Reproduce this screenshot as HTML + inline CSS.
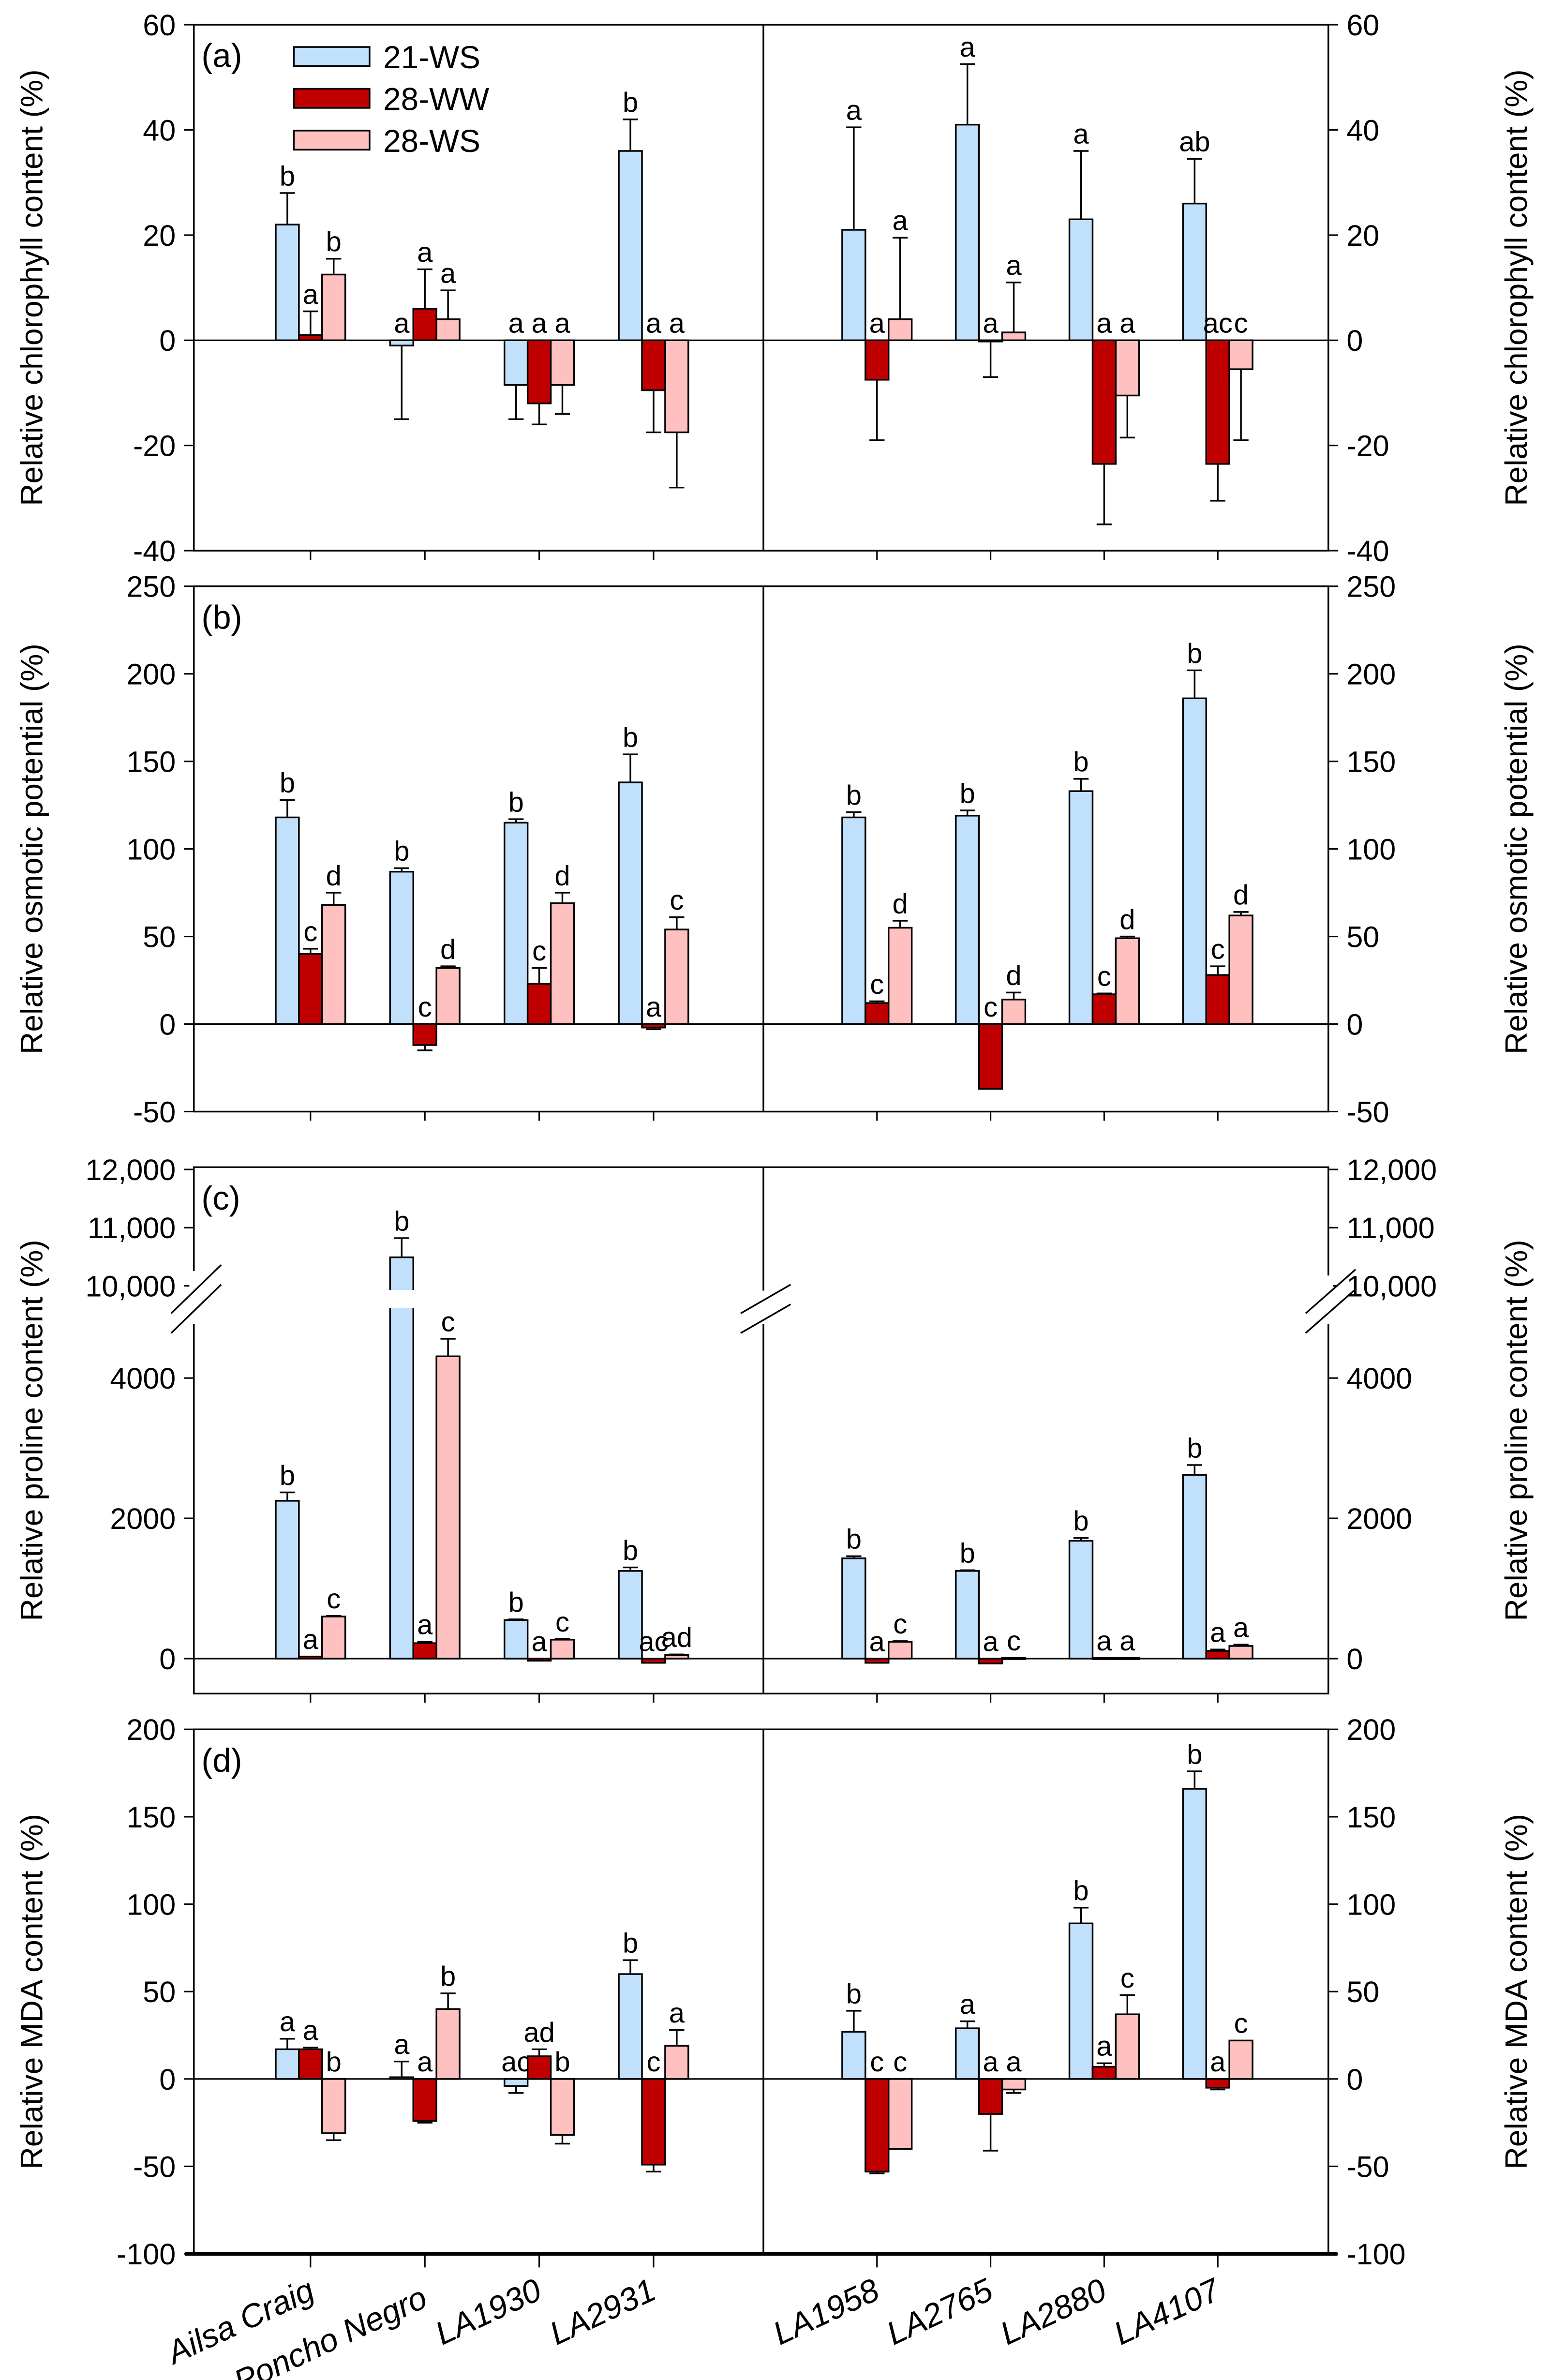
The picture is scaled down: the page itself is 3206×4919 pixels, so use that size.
<!DOCTYPE html>
<html><head><meta charset="utf-8">
<style>
html,body{margin:0;padding:0;background:#fff;}
svg{display:block;}
text{font-family:"Liberation Sans",Arial,sans-serif;fill:#000;}
</style></head>
<body>
<svg id="chart" width="3206" height="4919" viewBox="0 0 1024 1571.1" xmlns="http://www.w3.org/2000/svg"></svg>
<script>
const cultivars = ["Ailsa Craig","Poncho Negro","LA1930","LA2931","LA1958","LA2765","LA2880","LA4107"];
const seriesNames = ["21-WS","28-WW","28-WS"];
// panel a: chlorophyll
const chlA_ws21 = [22,-1,-8.5,36,21,41,23,26];
const chlA_ww28 = [1,6,-12,-9.5,-7.5,0,-23.5,-23.5];
const chlA_ws28 = [12.5,4,-8.5,-17.5,4,1.5,-10.5,-5.5];
const chlE_ws21 = [6,-14,-6.5,6,19.5,11.5,13,8.5];
const chlE_ww28 = [4.5,7.5,-4,-8,-11.5,-7,-11.5,-7];
const chlE_ws28 = [3,5.5,-5.5,-10.5,15.5,9.5,-8,-13.5];
const chlL_ws21 = ["b","a","a","b","a","a","a","ab"];
const chlL_ww28 = ["a","a","a","a","a","a","a","ac"];
const chlL_ws28 = ["b","a","a","a","a","a","a","c"];
// panel b: osmotic potential
const osmA_ws21 = [118,87,115,138,118,119,133,186];
const osmA_ww28 = [40,-12,23,-2,12,-37,17,28];
const osmA_ws28 = [68,32,69,54,55,14,49,62];
const osmE_ws21 = [10,2,2,16,3,3,7,16];
const osmE_ww28 = [3,-3,9,-1,1,0,0.5,5];
const osmE_ws28 = [7,1,6,7,4,4,1,2];
const osmL_ws21 = ["b","b","b","b","b","b","b","b"];
const osmL_ww28 = ["c","c","c","a","c","c","c","c"];
const osmL_ws28 = ["d","d","d","c","d","d","d","d"];
// panel c: proline
const proA_ws21 = [2250,10490,550,1250,1430,1250,1680,2620];
const proA_ww28 = [30,220,-30,-60,-60,-70,10,110];
const proA_ws28 = [600,4310,270,50,240,10,10,180];
const proE_ws21 = [120,330,10,50,30,10,40,140];
const proE_ww28 = [0,20,0,0,0,0,0,20];
const proE_ws28 = [10,250,10,10,10,0,0,20];
const proL_ws21 = ["b","b","b","b","b","b","b","b"];
const proL_ww28 = ["a","a","a","ac","a","a","a","a"];
const proL_ws28 = ["c","c","c","ad","c","c","a","a"];
// panel d: MDA
const mdaA_ws21 = [17,1,-4,60,27,29,89,166];
const mdaA_ww28 = [17,-24,13,-49,-53,-20,7,-5];
const mdaA_ws28 = [-31,40,-32,19,-40,-6,37,22];
const mdaE_ws21 = [6,9,-4,8,12,4,9,10];
const mdaE_ww28 = [1,-1,4,-4,-1,-21,2,-1];
const mdaE_ws28 = [-4,9,-5,9,0,-2,11,0];
const mdaL_ws21 = ["a","a","ac","b","b","a","b","b"];
const mdaL_ww28 = ["a","a","ad","c","c","a","a","a"];
const mdaL_ws28 = ["b","b","b","a","c","a","c","c"];

const yTicksA = [60,40,20,0,-20,-40];
const yTicksB = [250,200,150,100,50,0,-50];
const yTicksC = [0,2000,4000,10000,11000,12000];
const yTickLabelsC = ["0","2000","4000","10,000","11,000","12,000"];
const yTicksD = [200,150,100,50,0,-50,-100];

const svg = document.getElementById('chart');
const NS = 'http://www.w3.org/2000/svg';
function mk(tag, attrs, parent){
  const e = document.createElementNS(NS, tag);
  for (const k in attrs) e.setAttribute(k, attrs[k]);
  (parent||svg).appendChild(e);
  return e;
}
const L = 128, MID = 504, R = 877;
const centers = [205,280.5,356,431.5,579,654,729,804];
const BW = 15.3;
const colors = ["#c0e0fc","#c00000","#ffc0c0"];

function linScale(vTop, vBot, yTop, yBot){
  return v => yTop + (vTop - v) * (yBot - yTop) / (vTop - vBot);
}
function procScale(v){
  if (v > 7000) return 772 + (12000 - v) * 0.0384;
  return 1094.9 - v * 0.0463;
}

const panels = [
  {key:'chlorophyll', tag:'(a)', top:16.3, bot:363.5, y:linScale(60,-40,16.3,363.5), ticks:yTicksA, tickLabels:yTicksA.map(String),
   title:'Relative chlorophyll content (%)', A:[chlA_ws21,chlA_ww28,chlA_ws28], E:[chlE_ws21,chlE_ww28,chlE_ws28], Lt:[chlL_ws21,chlL_ww28,chlL_ws28]},
  {key:'osmotic', tag:'(b)', top:387, bot:733.8, y:linScale(250,-50,387,733.8), ticks:yTicksB, tickLabels:yTicksB.map(String),
   title:'Relative osmotic potential (%)', A:[osmA_ws21,osmA_ww28,osmA_ws28], E:[osmE_ws21,osmE_ww28,osmE_ws28], Lt:[osmL_ws21,osmL_ww28,osmL_ws28]},
  {key:'proline', tag:'(c)', top:770.5, bot:1118, y:procScale, ticks:yTicksC, tickLabels:yTickLabelsC,
   title:'Relative proline content (%)', A:[proA_ws21,proA_ww28,proA_ws28], E:[proE_ws21,proE_ww28,proE_ws28], Lt:[proL_ws21,proL_ww28,proL_ws28]},
  {key:'mda', tag:'(d)', top:1141.6, bot:1487.8, y:linScale(200,-100,1141.6,1487.8), ticks:yTicksD, tickLabels:yTicksD.map(String),
   title:'Relative MDA content (%)', A:[mdaA_ws21,mdaA_ww28,mdaA_ws28], E:[mdaE_ws21,mdaE_ww28,mdaE_ws28], Lt:[mdaL_ws21,mdaL_ww28,mdaL_ws28]}
];

panels.forEach((p, pi) => {
  const g = mk('g', {});
  
  
  const y0 = p.y(0);
  const zl = mk('line', {x1:L, x2:R, y1:y0, y2:y0, stroke:'#000', 'stroke-width':1}, g);
  
  
  for (let i = 0; i < centers.length; i++) {
    for (let s = 0; s < 3; s++) {
      const v = p.A[s][i];
      const x = centers[i] - BW*1.5 + s*BW;
      const yv = p.y(v);
      const yTop = Math.min(yv, y0), h = Math.max(Math.abs(yv - y0), 0.8);
      const r = mk('rect', {x:x, y:yTop, width:BW, height:h, fill:colors[s], stroke:'#000', 'stroke-width':1.1}, g);
      
      
      if (p.key === 'proline' && v > 7000) {
        const gap = mk('rect', {x:x-1.5, y:851.5, width:BW+3, height:12, fill:'#fff'}, g);
        
        
      }
      const e = p.E[s][i];
      const cx = x + BW/2;
      let errEnd = v;
      if (e !== 0) {
        errEnd = v + e;
        const ye = p.y(errEnd);
        const el = mk('path', {d:`M${cx},${yv}L${cx},${ye}M${cx-5},${ye}L${cx+5},${ye}`, stroke:'#000', 'stroke-width':1.1, fill:'none'}, g);
        
        
      }
      const topV = Math.max(v, errEnd, 0);
      const ly = Math.min(p.y(topV), y0) - 5;
      const t = mk('text', {x:cx, y:ly, 'text-anchor':'middle', 'font-size':18.5}, g);
      t.textContent = p.Lt[s][i];
      
      
    }
  }
  const fr = mk('rect', {x:L, y:p.top, width:R-L, height:p.bot-p.top, fill:'none', stroke:'#000', 'stroke-width':1.1}, g);
  
  
  const dv = mk('line', {x1:MID, x2:MID, y1:p.top, y2:p.bot, stroke:'#000', 'stroke-width':1.1}, g);
  
  
  if (pi === 3) {
    const bl = mk('line', {x1:L-6, x2:R+6, y1:p.bot, y2:p.bot, stroke:'#000', 'stroke-width':2.5}, g);
    
    
  }
  centers.forEach(cx => {
    const tk = mk('line', {x1:cx, x2:cx, y1:p.bot, y2:p.bot + (pi===3?9:6), stroke:'#000', 'stroke-width':1}, g);
    
    
  });
  p.ticks.forEach((tv, ti) => {
    const yy = p.y(tv);
    const tl = mk('line', {x1:L-6.5, x2:L, y1:yy, y2:yy, stroke:'#000', 'stroke-width':1}, g);
    
    
    const tr = mk('line', {x1:R, x2:R+6.5, y1:yy, y2:yy, stroke:'#000', 'stroke-width':1}, g);
    
    
    const lt = mk('text', {x:L-12, y:yy+7, 'text-anchor':'end', 'font-size':19.5}, g);
    lt.textContent = p.tickLabels[ti];
    
    
    const rt = mk('text', {x:R+12, y:yy+7, 'text-anchor':'start', 'font-size':19.5}, g);
    rt.textContent = p.tickLabels[ti];
    
    
  });
  const cy = (p.top + p.bot) / 2;
  const at = mk('text', {x:0, y:0, 'text-anchor':'middle', 'font-size':20.5, transform:`translate(28,${cy}) rotate(-90)`}, g);
  at.textContent = p.title;
  
  
  const at2 = mk('text', {x:0, y:0, 'text-anchor':'middle', 'font-size':20.5, transform:`translate(1008,${cy}) rotate(-90)`}, g);
  at2.textContent = p.title;
  
  
  const pt = mk('text', {x:133, y:p.top+28, 'font-size':22}, g);
  pt.textContent = p.tag;
  
  
});

[[L,835,880],[MID,848,880],[R,838,880]].forEach(([bx,y1,y2]) => {
  const w = mk('rect', {x:bx-3, y:y1+4, width:6, height:y2-y1-10, fill:'#fff'});
  
  
  const bm = mk('path', {d:`M${bx-15},${y2-13}L${bx+18},${y1}M${bx-15},${y2}L${bx+18},${y1+13}`, stroke:'#000', 'stroke-width':1.1, fill:'none'});
  
  
});

const lg = mk('g', {});


seriesNames.forEach((nm, s) => {
  const yy = 31 + s*27.6;
  const r = mk('rect', {x:194, y:yy, width:50, height:12.6, fill:colors[s], stroke:'#000', 'stroke-width':1.1}, lg);
  
  
  const t = mk('text', {x:253, y:yy+14, 'font-size':21}, lg);
  t.textContent = nm;
  
  
});

cultivars.forEach((c, i) => {
  const dx = (i === 0) ? 4 : 3;
  const t = mk('text', {x:0, y:0, 'text-anchor':'end', 'font-size':21.5, 'font-style':'italic', transform:`translate(${centers[i]+dx},${(i===1?1522:1517)}) rotate(-25)`});
  t.textContent = c;
  
  
});
</script>
</body></html>
